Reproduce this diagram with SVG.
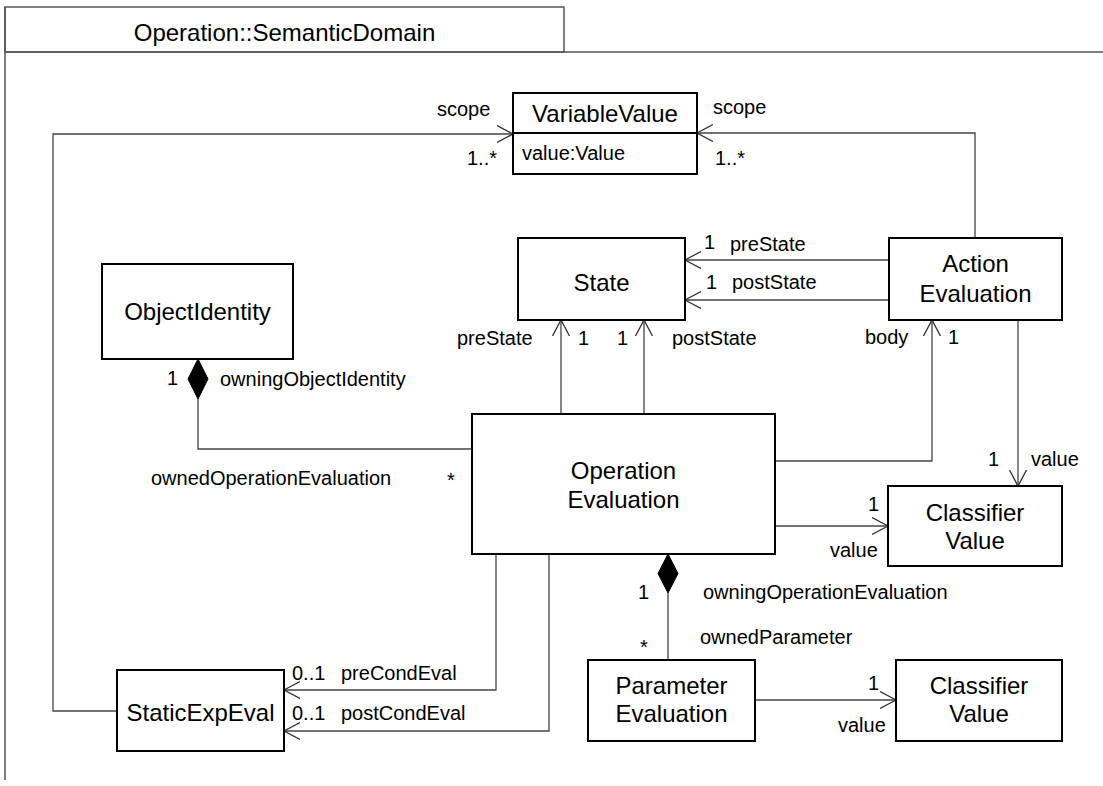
<svg xmlns="http://www.w3.org/2000/svg" width="1103" height="786" viewBox="0 0 1103 786">
<style>
.frame{fill:none;stroke:#555;stroke-width:1.5}
.box{fill:#fff;stroke:#000;stroke-width:2}
.ln{fill:none;stroke:#444;stroke-width:1.3}
.node{font-family:"Liberation Sans",Arial,sans-serif;font-size:24px;fill:#000;text-anchor:middle}
.lbl{font-family:"Liberation Sans",Arial,sans-serif;font-size:20px;fill:#000}
.dia{fill:#000;stroke:#000;stroke-width:1}
</style>
<defs>
<marker id="open" markerWidth="20" markerHeight="20" refX="16" refY="9" orient="auto" markerUnits="userSpaceOnUse">
<path d="M0,0.5 L16,9 L0,17.5" fill="none" stroke="#333" stroke-width="1.3"/>
</marker>
</defs>
<rect width="1103" height="786" fill="#fff"/>
<g id="package">
<rect class="frame" x="5" y="7" width="559" height="45"/>
<path class="frame" d="M5,52 H1103 M5,7 V780"/>
<text class="node" x="284.5" y="41">Operation::SemanticDomain</text>
</g>
<g id="connectors">
<path class="ln" d="M117,711 H53 V134 H513" marker-end="url(#open)"/>
<path class="ln" d="M975,238 V133 H697" marker-end="url(#open)"/>
<path class="ln" d="M889,260 H685" marker-end="url(#open)"/>
<path class="ln" d="M889,300 H685" marker-end="url(#open)"/>
<path class="ln" d="M561,414 V320" marker-end="url(#open)"/>
<path class="ln" d="M644,414 V320" marker-end="url(#open)"/>
<path class="ln" d="M775,461 H932 V320" marker-end="url(#open)"/>
<path class="ln" d="M1018,320 V486" marker-end="url(#open)"/>
<path class="ln" d="M775,526 H888" marker-end="url(#open)"/>
<path class="ln" d="M198,399 V449 H472"/>
<path class="dia" d="M198,359 L208,379 L198,399 L188,379 Z"/>
<path class="ln" d="M668,593 V660"/>
<path class="dia" d="M668,554 L678,573.5 L668,593 L658,573.5 Z"/>
<path class="ln" d="M755,700 H896" marker-end="url(#open)"/>
<path class="ln" d="M496,554 V690 H284" marker-end="url(#open)"/>
<path class="ln" d="M549,554 V731 H284" marker-end="url(#open)"/>
<text class="lbl" x="437" y="116">scope</text>
<text class="lbl" x="467" y="165">1..*</text>
<text class="lbl" x="713" y="114">scope</text>
<text class="lbl" x="715" y="165">1..*</text>
<text class="lbl" x="704" y="249">1</text>
<text class="lbl" x="730" y="251">preState</text>
<text class="lbl" x="706" y="289">1</text>
<text class="lbl" x="732" y="289">postState</text>
<text class="lbl" x="457" y="345">preState</text>
<text class="lbl" x="578" y="345">1</text>
<text class="lbl" x="617" y="345">1</text>
<text class="lbl" x="672" y="345">postState</text>
<text class="lbl" x="865" y="344">body</text>
<text class="lbl" x="948" y="344">1</text>
<text class="lbl" x="167" y="385">1</text>
<text class="lbl" x="220" y="386">owningObjectIdentity</text>
<text class="lbl" x="151" y="485">ownedOperationEvaluation</text>
<text class="lbl" x="447" y="487">*</text>
<text class="lbl" x="988" y="466">1</text>
<text class="lbl" x="1031" y="466">value</text>
<text class="lbl" x="868" y="511">1</text>
<text class="lbl" x="830" y="557">value</text>
<text class="lbl" x="638" y="599">1</text>
<text class="lbl" x="703" y="599">owningOperationEvaluation</text>
<text class="lbl" x="640" y="654">*</text>
<text class="lbl" x="700" y="644">ownedParameter</text>
<text class="lbl" x="868" y="690">1</text>
<text class="lbl" x="838" y="732">value</text>
<text class="lbl" x="292" y="680">0..1</text>
<text class="lbl" x="341" y="680">preCondEval</text>
<text class="lbl" x="292" y="720">0..1</text>
<text class="lbl" x="341" y="720">postCondEval</text>
</g>
<g id="VariableValue">
<rect class="box" x="513" y="93" width="184" height="81"/>
<line class="box" x1="513" y1="133" x2="697" y2="133"/>
<text class="node" x="605" y="122">VariableValue</text>
<text class="lbl" x="522" y="160">value:Value</text>
</g>
<g id="ObjectIdentity">
<rect class="box" x="102" y="264" width="191" height="95"/>
<text class="node" x="197.5" y="320">ObjectIdentity</text>
</g>
<g id="State">
<rect class="box" x="518" y="238" width="167" height="82"/>
<text class="node" x="601.5" y="291">State</text>
</g>
<g id="ActionEvaluation">
<rect class="box" x="889" y="238" width="173" height="82"/>
<text class="node" x="975.5" y="272">Action</text>
<text class="node" x="975.5" y="302">Evaluation</text>
</g>
<g id="OperationEvaluation">
<rect class="box" x="472" y="414" width="303" height="140"/>
<text class="node" x="623.5" y="479">Operation</text>
<text class="node" x="623.5" y="508">Evaluation</text>
</g>
<g id="ClassifierValue1">
<rect class="box" x="888" y="486" width="174" height="80"/>
<text class="node" x="975" y="521">Classifier</text>
<text class="node" x="975" y="549">Value</text>
</g>
<g id="ParameterEvaluation">
<rect class="box" x="588" y="660" width="167" height="81"/>
<text class="node" x="671.5" y="694">Parameter</text>
<text class="node" x="671.5" y="722">Evaluation</text>
</g>
<g id="ClassifierValue2">
<rect class="box" x="896" y="660" width="166" height="81"/>
<text class="node" x="979" y="694">Classifier</text>
<text class="node" x="979" y="722">Value</text>
</g>
<g id="StaticExpEval">
<rect class="box" x="117" y="670" width="167" height="81"/>
<text class="node" x="200.5" y="721">StaticExpEval</text>
</g>
</svg>
